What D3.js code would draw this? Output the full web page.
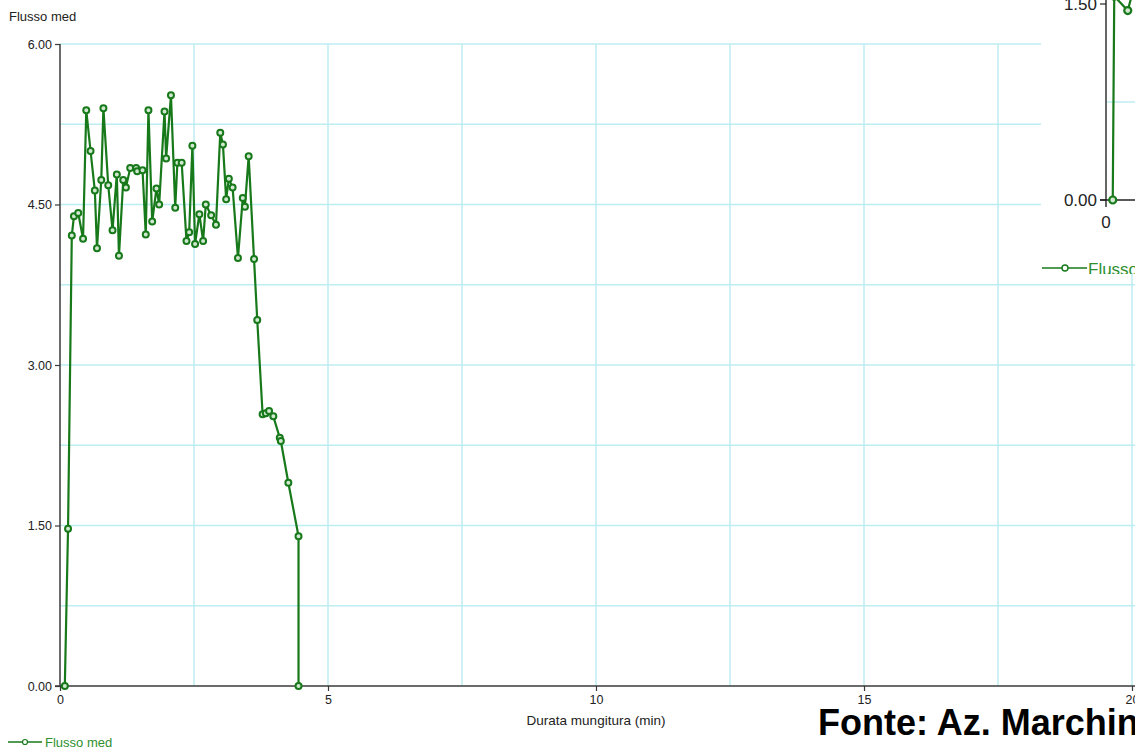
<!DOCTYPE html>
<html>
<head>
<meta charset="utf-8">
<script src="https://cdn.jsdelivr.net/npm/d3@7"></script>
<style>
  html, body { margin: 0; padding: 0; background: #fff; }
  svg { display: block; font-family: "Liberation Sans", Arial, sans-serif; }
</style>
</head>
<body>
<svg id="chart" width="1135" height="749"></svg>
<script>
// Milking flow curve: time since start (min) and average flow (kg/min)
const times = [0.09, 0.15, 0.22, 0.26, 0.34, 0.43, 0.49, 0.57, 0.65, 0.69,
               0.77, 0.81, 0.90, 0.98, 1.06, 1.10, 1.18, 1.23, 1.31, 1.42,
               1.44, 1.54, 1.60, 1.65, 1.72, 1.80, 1.85, 1.95, 1.98, 2.07,
               2.15, 2.19, 2.27, 2.36, 2.41, 2.47, 2.52, 2.60, 2.67, 2.72,
               2.82, 2.91, 2.99, 3.04, 3.10, 3.15, 3.22, 3.32, 3.41, 3.45,
               3.52, 3.62, 3.68, 3.78, 3.84, 3.90, 3.98, 4.10, 4.12, 4.26,
               4.45, 4.45];
const flow  = [0.00, 1.47, 4.21, 4.39, 4.42, 4.18, 5.38, 5.00, 4.63, 4.09,
               4.73, 5.40, 4.68, 4.26, 4.78, 4.02, 4.73, 4.66, 4.84, 4.84,
               4.81, 4.82, 4.22, 5.38, 4.34, 4.65, 4.50, 5.37, 4.93, 5.52,
               4.47, 4.89, 4.89, 4.16, 4.24, 5.05, 4.13, 4.41, 4.16, 4.50,
               4.40, 4.31, 5.17, 5.06, 4.55, 4.74, 4.66, 4.00, 4.56, 4.48,
               4.95, 3.99, 3.42, 2.54, 2.55, 2.57, 2.52, 2.32, 2.29, 1.90,
               1.40, 0.00];

const yTicks = [0, 1.5, 3, 4.5, 6];
const yGrid  = [0.75, 1.5, 2.25, 3, 3.75, 4.5, 5.25, 6];
const xTicks = [0, 5, 10, 15, 20];
const xGrid  = [2.5, 5, 7.5, 10, 12.5, 15, 17.5, 20];

// Second, smaller flow panel at the top right
const insetTimes = [0.09, 0.11, 0.29, 0.36];
const insetFlow  = [0.00, 1.56, 1.45, 1.60];
const insetTicks = [0, 1.5];
const insetGrid  = [0.75];

const seriesName = "Flusso med";
const green = "#17791a";
const gridColor = "#bcedf1";
const axisColor = "#3a3a3a";

const svg = d3.select("#chart");

const x = d3.scaleLinear().domain([0, 20]).range([60, 1132]);
const y = d3.scaleLinear().domain([0, 6]).range([686, 44]);

// grid
svg.append("g").selectAll("line").data(yGrid).join("line")
  .attr("x1", 60).attr("x2", 1135)
  .attr("y1", d => y(d)).attr("y2", d => y(d))
  .attr("stroke", gridColor).attr("stroke-width", 1.5);
svg.append("g").selectAll("line").data(xGrid).join("line")
  .attr("x1", d => x(d)).attr("x2", d => x(d))
  .attr("y1", y(6)).attr("y2", y(0))
  .attr("stroke", gridColor).attr("stroke-width", 1.5);

// axes
const yAxis = d3.axisLeft(y).tickValues(yTicks).tickFormat(d3.format(".2f"))
  .tickSize(5).tickPadding(3);
const gy = svg.append("g").attr("transform", "translate(60,0)").call(yAxis);
const xAxis = d3.axisBottom(x).tickValues(xTicks).tickFormat(d3.format("d"))
  .tickSize(5).tickPadding(4);
const gx = svg.append("g").attr("transform", `translate(0,${y(0)})`).call(xAxis);
[gx, gy].forEach(g => {
  g.select(".domain").remove();
  g.selectAll(".tick line").attr("stroke", axisColor).attr("stroke-width", 1.2);
  g.selectAll(".tick text").attr("fill", "#222").style("font-size", "12.5px")
    .style("font-family", "'Liberation Sans', Arial, sans-serif");
});
svg.append("line").attr("x1", 60).attr("x2", 60).attr("y1", y(6)).attr("y2", y(0))
  .attr("stroke", axisColor).attr("stroke-width", 1.5);
svg.append("line").attr("x1", 55).attr("x2", 1135).attr("y1", y(0)).attr("y2", y(0))
  .attr("stroke", axisColor).attr("stroke-width", 1.5);

svg.append("text").attr("x", 9).attr("y", 21).attr("fill", "#222")
  .style("font-size", "13px").text(seriesName);
svg.append("text").attr("x", x(10)).attr("y", 725).attr("text-anchor", "middle")
  .attr("fill", "#222").style("font-size", "13.5px").text("Durata mungitura (min)");

// series
const line = d3.line().x((d, i) => x(times[i])).y(d => y(d));
svg.append("path").datum(flow).attr("d", line)
  .attr("fill", "none").attr("stroke", green).attr("stroke-width", 2.2)
  .attr("stroke-linejoin", "round");
svg.append("g").selectAll("circle").data(flow).join("circle")
  .attr("cx", (d, i) => x(times[i])).attr("cy", d => y(d)).attr("r", 3)
  .attr("fill", "#cfe8cf").attr("stroke", green).attr("stroke-width", 2);

// legend
svg.append("line").attr("x1", 8).attr("x2", 42).attr("y1", 742).attr("y2", 742)
  .attr("stroke", green).attr("stroke-width", 1.3);
svg.append("circle").attr("cx", 25).attr("cy", 742).attr("r", 2.5)
  .attr("fill", "#fff").attr("stroke", green).attr("stroke-width", 1.2);
svg.append("text").attr("x", 45).attr("y", 747).attr("fill", "#2f8f2f")
  .style("font-size", "13px").text(seriesName);

// source note
svg.append("text").attr("x", 818).attr("y", 735).attr("fill", "#000")
  .style("font-size", "36px").style("font-weight", "bold")
  .text("Fonte: Az. Marchini");

// inset panel
svg.append("clipPath").attr("id", "insetClip").append("rect")
  .attr("x", 1041).attr("y", 0).attr("width", 94).attr("height", 274);
const inset = svg.append("g").attr("clip-path", "url(#insetClip)");
inset.append("rect").attr("x", 1041).attr("y", 0).attr("width", 94).attr("height", 274)
  .attr("fill", "#fff");
const ix = d3.scaleLinear().domain([0, 1]).range([1106, 1181]);
const iy = d3.scaleLinear().domain([0, 1.5]).range([200, 4]);
inset.selectAll(".igrid").data(insetGrid).join("line")
  .attr("x1", 1106).attr("x2", 1135).attr("y1", d => iy(d)).attr("y2", d => iy(d))
  .attr("stroke", gridColor).attr("stroke-width", 1.5);
inset.append("line").attr("x1", 1106).attr("x2", 1106).attr("y1", 0).attr("y2", 207)
  .attr("stroke", "#666").attr("stroke-width", 2);
inset.append("line").attr("x1", 1100).attr("x2", 1135).attr("y1", iy(0)).attr("y2", iy(0))
  .attr("stroke", "#222").attr("stroke-width", 1.3);
inset.selectAll(".itick").data(insetTicks).join("line")
  .attr("x1", 1100).attr("x2", 1106).attr("y1", d => iy(d)).attr("y2", d => iy(d))
  .attr("stroke", "#222").attr("stroke-width", 1.2);
inset.selectAll(".ilab").data(insetTicks).join("text")
  .attr("x", 1097).attr("y", d => iy(d)).attr("dy", "0.35em").attr("text-anchor", "end")
  .attr("fill", "#222").style("font-size", "17px").text(d3.format(".2f"));
inset.append("text").attr("x", ix(0)).attr("y", 228).attr("text-anchor", "middle")
  .attr("fill", "#222").style("font-size", "17px").text("0");
const iline = d3.line().x((d, i) => ix(insetTimes[i])).y(d => iy(d));
inset.append("path").datum(insetFlow).attr("d", iline)
  .attr("fill", "none").attr("stroke", green).attr("stroke-width", 2.2);
inset.selectAll(".ipt").data(insetFlow).join("circle")
  .attr("cx", (d, i) => ix(insetTimes[i])).attr("cy", d => iy(d)).attr("r", 3.5)
  .attr("fill", "#cfe8cf").attr("stroke", green).attr("stroke-width", 2.2);
inset.append("line").attr("x1", 1042).attr("x2", 1087).attr("y1", 268).attr("y2", 268)
  .attr("stroke", green).attr("stroke-width", 1.6);
inset.append("circle").attr("cx", 1065).attr("cy", 268).attr("r", 3)
  .attr("fill", "#fff").attr("stroke", green).attr("stroke-width", 1.4);
inset.append("text").attr("x", 1088).attr("y", 275).attr("fill", "#2f8f2f")
  .style("font-size", "17px").text(seriesName);
</script>
</body>
</html>
